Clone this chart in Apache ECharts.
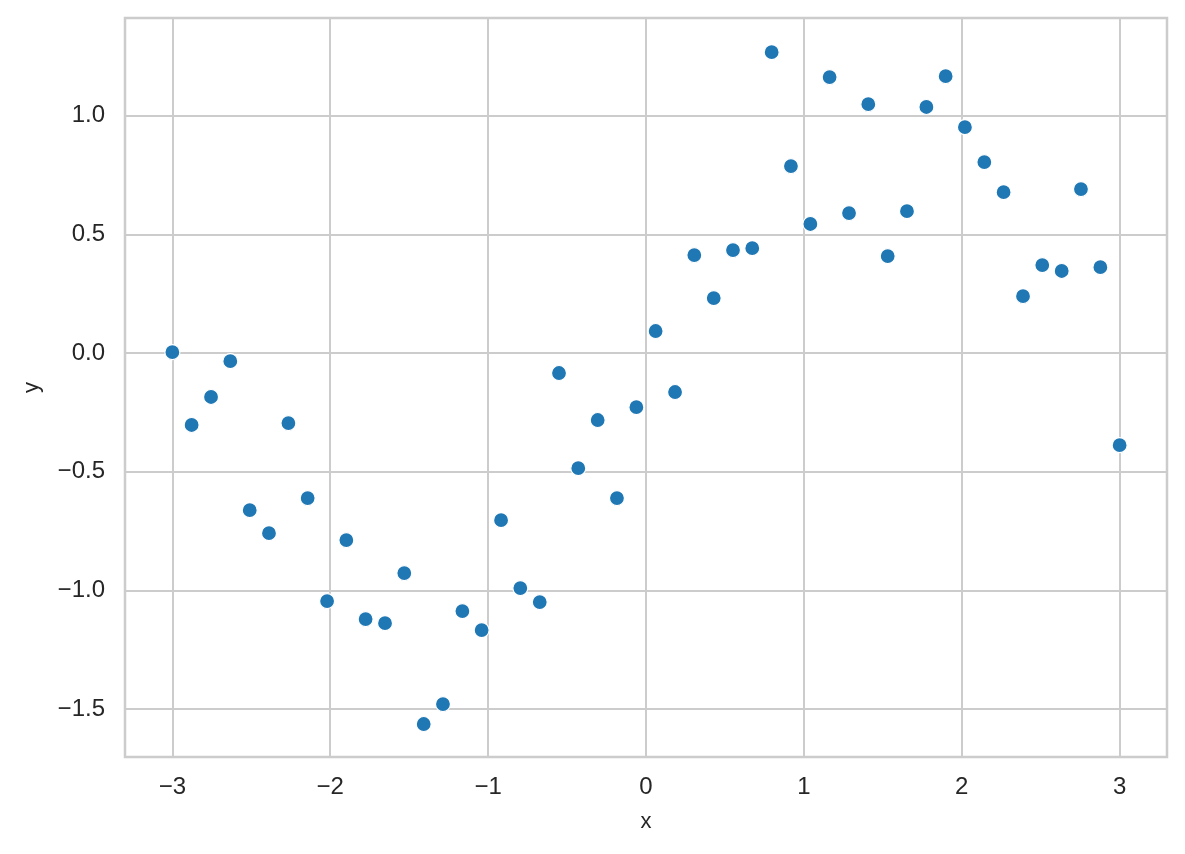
<!DOCTYPE html>
<html>
<head>
<meta charset="utf-8">
<script src="https://cdn.jsdelivr.net/npm/echarts@6/dist/echarts.min.js"></script>
<style>
html,body{margin:0;padding:0;background:#fff;}
#chart{width:1185px;height:854px;}
</style>
</head>
<body>
<div id="chart"></div>
<script>
const xValues = [-3.000,-2.878,-2.755,-2.633,-2.510,-2.388,-2.265,-2.143,-2.020,-1.898,
  -1.776,-1.653,-1.531,-1.408,-1.286,-1.163,-1.041,-0.918,-0.796,-0.673,
  -0.551,-0.429,-0.306,-0.184,-0.061,0.061,0.184,0.306,0.429,0.551,
  0.673,0.796,0.918,1.041,1.163,1.286,1.408,1.531,1.653,1.776,
  1.898,2.020,2.143,2.265,2.388,2.510,2.633,2.755,2.878,3.000];
const yValues = [0.004,-0.303,-0.185,-0.034,-0.662,-0.759,-0.295,-0.611,-1.045,-0.788,
  -1.121,-1.138,-0.927,-1.563,-1.479,-1.087,-1.167,-0.704,-0.990,-1.049,
  -0.084,-0.485,-0.282,-0.611,-0.228,0.093,-0.164,0.413,0.232,0.434,
  0.442,1.268,0.788,0.544,1.163,0.590,1.049,0.409,0.598,1.037,
  1.167,0.952,0.805,0.678,0.240,0.371,0.346,0.691,0.362,-0.388];
const xTicks = [-3,-2,-1,0,1,2,3];
const yTicks = [-1.5,-1.0,-0.5,0.0,0.5,1.0];

const points = xValues.map((x, i) => [x, yValues[i]]);
const minus = s => String(s).replace('-', '\u2212');
const FONT = 'Liberation Sans, Arial, sans-serif';
const chart = echarts.init(document.getElementById('chart'));
chart.setOption({
  animation: false,
  backgroundColor: '#ffffff',
  grid: {
    left: 125, right: 18, top: 18, bottom: 97,
    show: true, borderColor: '#cccccc', borderWidth: 2.5, containLabel: false
  },
  xAxis: {
    type: 'value', min: -3.3, max: 3.3,
    name: 'x', nameLocation: 'middle', nameGap: 54,
    nameTextStyle: { color: '#262626', fontSize: 22, fontFamily: FONT },
    axisLine: { show: false },
    axisTick: { show: false, customValues: xTicks },
    axisLabel: { customValues: xTicks, color: '#262626', fontSize: 24, fontFamily: FONT, margin: 18,
      formatter: v => minus(Math.round(v)) },
    splitLine: { show: true, lineStyle: { color: '#cccccc', width: 2 } }
  },
  yAxis: {
    type: 'value', min: -1.702, max: 1.412,
    name: 'y', nameLocation: 'middle', nameGap: 82, nameRotate: 90,
    nameTextStyle: { color: '#262626', fontSize: 22, fontFamily: FONT },
    axisLine: { show: false },
    axisTick: { show: false, customValues: yTicks },
    axisLabel: { customValues: yTicks, color: '#262626', fontSize: 24, fontFamily: FONT, margin: 20,
      formatter: v => minus(v.toFixed(1)) },
    splitLine: { show: true, lineStyle: { color: '#cccccc', width: 2 } }
  },
  series: [{
    type: 'scatter',
    data: points,
    symbol: 'circle',
    symbolSize: 15,
    itemStyle: { color: '#1f77b4', borderColor: '#ffffff', borderWidth: 1.2, opacity: 1 }
  }]
});
</script>
</body>
</html>
